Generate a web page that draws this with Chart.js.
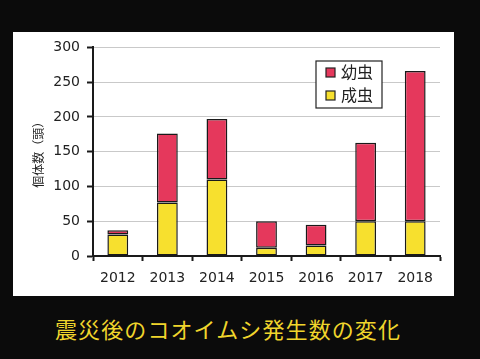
<!DOCTYPE html>
<html>
<head>
<meta charset="utf-8">
<script src="https://cdn.jsdelivr.net/npm/chart.js@4"></script>
<style>
  html, body { margin: 0; padding: 0; }
  body { width: 480px; height: 359px; background: #0b0b0b; position: relative; overflow: hidden; }
  #panel { position: absolute; left: 13px; top: 32px; width: 441px; height: 264px; background: #fff; }
  #caption {
    position: absolute; left: 55px; top: 312px;
    font-family: "Noto Sans CJK JP", sans-serif; font-size: 22px;
    color: #f0d52c; letter-spacing: 1.1px; white-space: nowrap;
  }
</style>
</head>
<body>
<div id="panel"><canvas id="bugChart" width="441" height="264"></canvas></div>
<div id="caption">震災後のコオイムシ発生数の変化</div>
<script>
// years and counts
const years = ["2012", "2013", "2014", "2015", "2016", "2017", "2018"];
const adults = [31, 77, 110, 12, 15, 50, 50];   // 成虫
const larvae = [6, 99, 87, 38, 30, 113, 216];   // 幼虫
const yTicks = [0, 50, 100, 150, 200, 250, 300];

const RED = "#e5385c";
const YELLOW = "#f7e02e";

// legend box drawn inside the plot, red on top
const boxLegend = {
  id: "boxLegend",
  afterDraw(chart) {
    const ctx = chart.ctx;
    const x = 303, y = 29, w = 66, h = 47;
    ctx.save();
    ctx.fillStyle = "#fff";
    ctx.fillRect(x, y, w, h);
    ctx.strokeStyle = "#222";
    ctx.lineWidth = 1.2;
    ctx.strokeRect(x, y, w, h);
    const items = chart.data.datasets.slice().reverse();
    items.forEach((ds, i) => {
      const cy = y + 11 + i * 23;
      ctx.fillStyle = ds.backgroundColor;
      ctx.fillRect(x + 10, cy - 4, 9, 9);
      ctx.strokeStyle = "#222";
      ctx.lineWidth = 1.2;
      ctx.strokeRect(x + 10, cy - 4, 9, 9);
      ctx.fillStyle = "#222";
      ctx.font = "16px 'Noto Sans CJK JP'";
      ctx.textBaseline = "middle";
      ctx.fillText(ds.label, x + 25, cy);
    });
    ctx.restore();
  }
};

const ctx = document.getElementById("bugChart").getContext("2d");

new Chart(ctx, {
  type: "bar",
  data: {
    labels: years,
    datasets: [
      {
        label: "成虫",
        data: adults,
        backgroundColor: YELLOW,
        borderColor: "#1a1a1a",
        borderWidth: 1.5,
        borderSkipped: false
      },
      {
        label: "幼虫",
        data: larvae,
        backgroundColor: RED,
        borderColor: "#1a1a1a",
        borderWidth: 1.5,
        borderSkipped: false
      }
    ]
  },
  options: {
    responsive: false,
    animation: false,
    barPercentage: 0.42,
    categoryPercentage: 1,
    layout: { padding: { top: 12, right: 14, left: 18, bottom: 0 } },
    plugins: {
      legend: { display: false },
      tooltip: { enabled: false }
    },
    scales: {
      x: {
        stacked: true,
        afterFit(scale) { scale.height = 40; },
        grid: {
          offset: true,
          drawOnChartArea: false,
          tickLength: 5,
          tickColor: "#1a1a1a",
          tickWidth: 2
        },
        border: { color: "#1a1a1a", width: 2 },
        ticks: {
          color: "#222",
          padding: 9,
          font: { family: "DejaVu Sans", size: 14 }
        }
      },
      y: {
        stacked: true,
        min: 0,
        max: 300,
        afterFit(scale) { scale.width = 62; },
        afterBuildTicks(scale) {
          scale.ticks = yTicks.map(v => ({ value: v }));
        },
        grid: {
          color: "#c9c9c9",
          lineWidth: 1,
          tickLength: 6,
          tickColor: "#1a1a1a",
          tickWidth: 2
        },
        border: { color: "#1a1a1a", width: 2 },
        title: {
          display: true,
          text: "個体数（頭）",
          color: "#222",
          padding: 0,
          font: { family: "Noto Sans CJK JP", size: 12 }
        },
        ticks: {
          color: "#222",
          padding: 7,
          font: { family: "DejaVu Sans", size: 14 }
        }
      }
    }
  },
  plugins: [boxLegend]
});
</script>
</body>
</html>
